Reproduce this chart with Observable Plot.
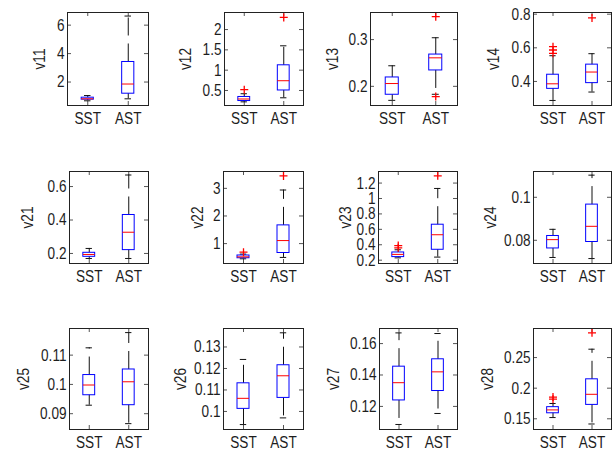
<!DOCTYPE html>
<html><head><meta charset="utf-8">
<script src="https://cdn.jsdelivr.net/npm/d3@7"></script>
<script src="https://cdn.jsdelivr.net/npm/@observablehq/plot@0.6"></script>
<style>
body{margin:0;background:#fff;}
#chart{position:relative;width:615px;height:453px;overflow:hidden;background:#fff;}
#chart svg{position:absolute;overflow:visible;max-width:none;}
</style></head><body><div id="chart"></div>
<script>
// ---- data ----
const groups = ["SST", "AST"];
const variables = ["v11","v12","v13","v14","v21","v22","v23","v24","v25","v26","v27","v28"];
// [lower whisker, q1, median, q3, upper whisker]
const sstStats = [
  [0.68, 0.76, 0.82, 0.90, 1.05],
  [0.22, 0.24, 0.29, 0.34, 0.42],
  [0.170, 0.182, 0.206, 0.219, 0.244],
  [0.287, 0.356, 0.386, 0.44, 0.553],
  [0.17, 0.18, 0.194, 0.204, 0.23],
  [0.45, 0.47, 0.52, 0.57, 0.62],
  [0.23, 0.24, 0.275, 0.30, 0.335],
  [0.072, 0.0762, 0.0803, 0.082, 0.0851],
  [0.0929, 0.0963, 0.0998, 0.1032, 0.1125],
  [0.0939, 0.1012, 0.1061, 0.1131, 0.1242],
  [0.1085, 0.1238, 0.1351, 0.1453, 0.1668],
  [0.152, 0.159, 0.1645, 0.169, 0.175]
];
const astStats = [
  [0.82, 1.18, 1.86, 3.41, 6.64],
  [0.32, 0.50, 0.74, 1.12, 1.60],
  [0.183, 0.234, 0.261, 0.268, 0.304],
  [0.337, 0.39, 0.456, 0.50, 0.565],
  [0.17, 0.22, 0.327, 0.43, 0.669],
  [0.50, 0.66, 1.11, 1.66, 2.94],
  [0.24, 0.335, 0.53, 0.66, 1.13],
  [0.0715, 0.0792, 0.0865, 0.0966, 0.1103],
  [0.0866, 0.0929, 0.1009, 0.1051, 0.1177],
  [0.0970, 0.1063, 0.1166, 0.1215, 0.1366],
  [0.1155, 0.1298, 0.142, 0.15, 0.1664],
  [0.1415, 0.1727, 0.19, 0.2145, 0.2637]
];
const sstOutliers = [[], [0.52], [], [0.567, 0.587, 0.607], [], [0.69], [0.36, 0.39], [], [], [], [], [0.182, 0.1855]];
const astOutliers = [[], [2.30], [0.349, 0.178], [0.778], [], [3.45], [1.294], [], [], [], [], [0.2904]];
const yDomains = [
  [0.35, 6.89], [0.13, 2.42], [0.159, 0.358], [0.257, 0.81],
  [0.14, 0.69], [0.28, 3.61], [0.157, 1.35], [0.0692, 0.112],
  [0.0846, 0.1191], [0.0916, 0.1386], [0.1053, 0.1696], [0.1325, 0.2975]
];
const yTicks = [
  [2, 4, 6], [0.5, 1, 1.5, 2], [0.2, 0.3], [0.4, 0.6, 0.8],
  [0.2, 0.4, 0.6], [1, 2, 3], [0.2, 0.4, 0.6, 0.8, 1, 1.2], [0.08, 0.1],
  [0.09, 0.1, 0.11], [0.1, 0.11, 0.12, 0.13], [0.12, 0.14, 0.16], [0.15, 0.2, 0.25]
];

// ---- layout ----
const rowTop = [12, 171, 328];
const rowBottom = [105, 263, 429];
const colLeft = [[67, 224, 370, 533], [69, 223, 378, 533], [69, 223, 379, 533]];
const colRight = [148, 303, 457, 611];
const labelOffset = [23, 34, 33, 35, 37, 21, 28, 38, 41, 38, 41, 41];

const font = "'Liberation Sans', Arial, sans-serif";
const textSqueeze = 0.8;
const mL = 60, mR = 8, mT = 8, mB = 30;
const container = document.getElementById("chart");

variables.forEach((name, i) => {
  const r = Math.floor(i / 4), c = i % 4;
  const L = colLeft[r][c], R = colRight[c], T = rowTop[r], B = rowBottom[r];
  const W = R - L, H = B - T;
  const stats = groups.map((g, j) => {
    const s = j ? astStats[i] : sstStats[i];
    return {pos: j + 1, lo: s[0], q1: s[1], med: s[2], q3: s[3], hi: s[4]};
  });
  const outs = [
    ...sstOutliers[i].map(v => ({pos: 1, v})),
    ...astOutliers[i].map(v => ({pos: 2, v}))
  ];
  const hw = 0.15, cw = 0.08;
  const fig = Plot.plot({
    width: W + mL + mR, height: H + mT + mB,
    marginLeft: mL, marginRight: mR, marginTop: mT, marginBottom: mB,
    style: {fontFamily: font, fontSize: "17px", color: "#1e1e1e", background: "transparent", overflow: "visible"},
    x: {domain: [0.5, 2.5], label: null},
    y: {domain: yDomains[i], label: null},
    marks: [
      // inward ticks
      Plot.ruleX([1, 2], {x: d => d, insetTop: H - 4, stroke: "#555"}),
      Plot.ruleX([1, 2], {x: d => d, insetBottom: H - 4, stroke: "#555"}),
      Plot.ruleY(yTicks[i], {y: d => d, insetRight: W - 4, stroke: "#555"}),
      Plot.ruleY(yTicks[i], {y: d => d, insetLeft: W - 4, stroke: "#555"}),
      // whiskers
      Plot.ruleX(stats, {x: "pos", y1: "q3", y2: "hi", stroke: "#111", strokeDasharray: "18,8"}),
      Plot.ruleX(stats, {x: "pos", y1: "q1", y2: "lo", stroke: "#111", strokeDasharray: "18,8"}),
      Plot.ruleY(stats, {y: "hi", x1: d => d.pos - cw, x2: d => d.pos + cw, stroke: "#111"}),
      Plot.ruleY(stats, {y: "lo", x1: d => d.pos - cw, x2: d => d.pos + cw, stroke: "#111"}),
      // boxes
      Plot.rect(stats, {x1: d => d.pos - hw, x2: d => d.pos + hw, y1: "q1", y2: "q3", fill: "none", stroke: "#0000ff"}),
      Plot.ruleY(stats, {y: "med", x1: d => d.pos - hw, x2: d => d.pos + hw, stroke: "#ff0000"}),
      // outliers
      Plot.dot(outs, {x: "pos", y: "v", symbol: "plus", r: 2.7, stroke: "#ff0000", strokeWidth: 1.3}),
      Plot.frame({stroke: "#222"}),
      Plot.axisX({ticks: [1, 2], tickFormat: d => groups[d - 1], tickSize: 0, tickPadding: 6, label: null}),
      Plot.axisY({ticks: yTicks[i], tickFormat: d => String(d), tickSize: 0, tickPadding: 3, label: null}),
      Plot.text([name], {text: d => d, frameAnchor: "left", rotate: -90, dx: -labelOffset[i], lineAnchor: "bottom", textAnchor: "middle"})
    ]
  });
  // condense the text horizontally around its anchor, like the reference's narrow lettering
  fig.querySelectorAll("text").forEach(t => {
    const tr = t.getAttribute("transform") || "";
    t.setAttribute("transform", tr + ` scale(${textSqueeze},1)`);
  });
  fig.style.left = (L - mL) + "px";
  fig.style.top = (T - mT) + "px";
  container.appendChild(fig);
});
</script></body></html>
